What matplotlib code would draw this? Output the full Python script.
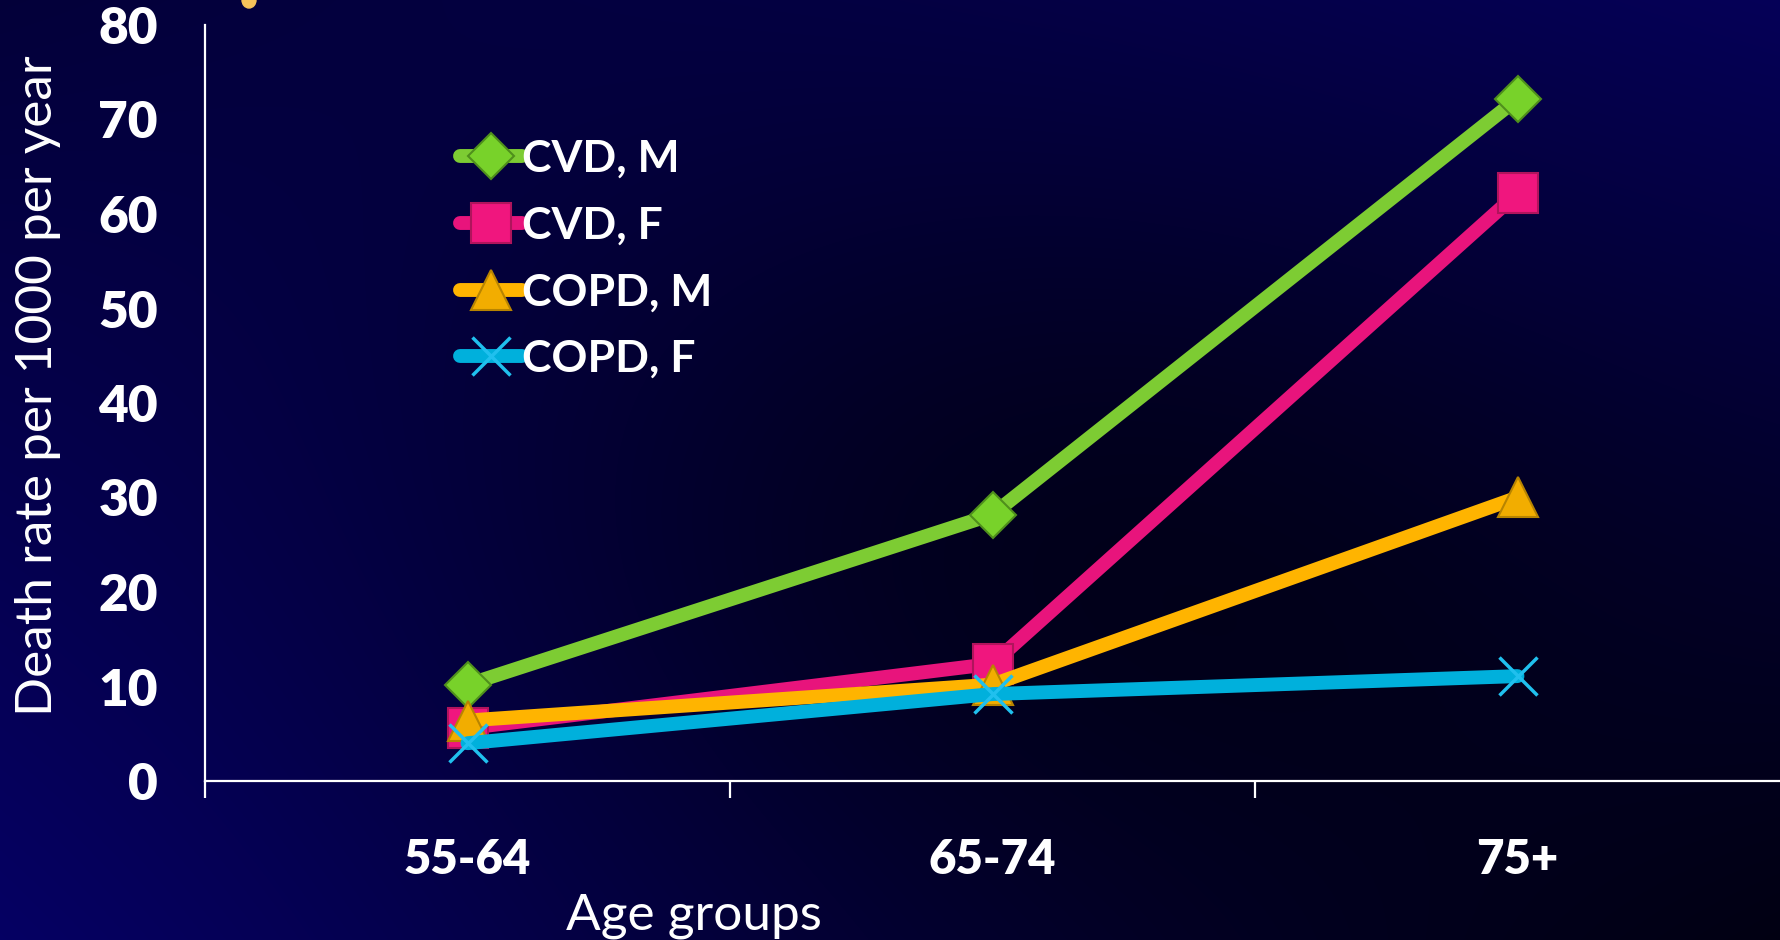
import numpy as np
import matplotlib
matplotlib.use('Agg')
import matplotlib.pyplot as plt
from matplotlib.patches import Ellipse

# death rates per 1000 per year, by age group
age_groups = ['55-64', '65-74', '75+']
cvd_m = [10.2, 28.2, 72.2]
cvd_f = [5.6, 12.4, 62.2]
copd_m = [6.4, 10.2, 30.0]
copd_f = [4.0, 9.2, 11.1]

series_labels = ['CVD, M', 'CVD, F', 'COPD, M', 'COPD, F']
series_values = [cvd_m, cvd_f, copd_m, copd_f]

W, H, DPI = 1780, 940, 100
PX = 72.0 / DPI  # points per pixel


def background(w, h):
    '''
    dark navy backdrop: brighter towards bottom-left / top-right corners
    '''
    u = np.linspace(0, 1, w)[None, :]
    v = np.linspace(0, 1, h)[:, None]
    tl, tr, bl, br = 58, 90, 100, 22
    b = (tl * (1 - u) * (1 - v) + tr * u * (1 - v)
         + bl * (1 - u) * v + br * u * v)
    dip = 36 * np.exp(-(((u - 0.6) / 0.35) ** 2 + ((v - 0.55) / 0.45) ** 2))
    b = np.clip(b - dip, 18, 255) / 255.0
    img = np.zeros((h, w, 3))
    img[..., 0] = b * 0.06
    img[..., 2] = b
    return img


fig = plt.figure(figsize=(W / DPI, H / DPI), dpi=DPI)
bg = fig.add_axes([0, 0, 1, 1], zorder=-5)
bg.imshow(background(W, H), aspect='auto', extent=[0, 1, 0, 1])
bg.set_axis_off()

# bit of a cropped title peeking in at the top
fig.add_artist(Ellipse((249 / W, 1.0), 14 / W, 16 / H,
                       transform=fig.transFigure, color='#f7c35a'))

left, bottom, top = 205 / W, (H - 781) / H, (H - 25) / H
ax = fig.add_axes([left, bottom, 1 - left, top - bottom])
ax.patch.set_alpha(0)

styles = [
    dict(color='#7dcc33', marker='D', ms=23, mfc='#78d22a', mec='#4f8f1c', mew=1.5),
    dict(color='#e8147c', marker='s', ms=29, mfc='#f0167e', mec='#b0145c', mew=1.5),
    dict(color='#ffb400', marker='^', ms=29, mfc='#f2ad00', mec='#b88400', mew=1.5),
    dict(color='#00b0dc', marker='x', ms=27, mfc='#20c0ee', mec='#20c0ee', mew=2.5),
]

x = np.arange(len(age_groups))
for label, vals, st in zip(series_labels, series_values, styles):
    ax.plot(x, vals, lw=10, label=label, solid_capstyle='round', **st)

ax.set_xlim(-0.5, 2.5)
ax.set_ylim(0, 80)
ax.set_yticks(np.arange(0, 81, 10))
ax.set_xticks(x)
ax.set_xticklabels(age_groups)
ax.set_xticks([-0.5, 0.5, 1.5], minor=True)

for s in ['top', 'right']:
    ax.spines[s].set_visible(False)
for s in ['left', 'bottom']:
    ax.spines[s].set_color('white')
    ax.spines[s].set_linewidth(1.6)

ax.tick_params(axis='y', length=0, pad=47 * PX, labelcolor='white', labelsize=37)
ax.tick_params(axis='x', which='major', length=0, pad=57 * PX, labelcolor='white', labelsize=34)
ax.tick_params(axis='x', which='minor', length=12, width=1.6, color='white', direction='out')
for t in ax.get_yticklabels() + ax.get_xticklabels():
    t.set_fontfamily('Lato')
    t.set_fontweight('heavy')

fig.text(38 / W, 1 - 386 / H, 'Death rate per 1000 per year', rotation=90,
         ha='center', va='center', color='white', fontsize=37, family='Lato')
fig.text(694 / W, 1 - 916 / H, 'Age groups', ha='center', va='center',
         color='white', fontsize=37, family='Lato')

leg = ax.legend(loc='upper left', bbox_to_anchor=(460 / W, 1 - 139 / H),
                bbox_transform=fig.transFigure, frameon=False,
                prop=dict(family='Lato', weight='bold', size=32),
                handlelength=1.4, handletextpad=0.0, labelspacing=0.6,
                borderpad=0, borderaxespad=0)
for t in leg.get_texts():
    t.set_color('white')

fig.savefig('out.png', dpi=DPI)
